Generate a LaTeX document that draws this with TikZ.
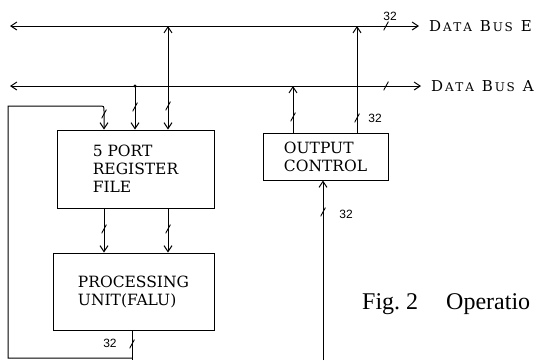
\documentclass[tikz,border=0pt]{standalone}
\usepackage{fontspec}
\setmainfont{DejaVu Serif}
\newfontfamily\numfont{Liberation Sans}
\newfontfamily\capfont{Liberation Serif}
\usetikzlibrary{arrows.meta}
\newcommand\bigsc[1]{{\fontsize{15}{16}\selectfont #1}}
\newcommand\smallsc[1]{{\fontsize{12}{13}\selectfont #1}}
\newcommand\lsp{\kern1.8pt}
\newcommand\busname[1]{\bigsc{D}\lsp\smallsc{A}\lsp\smallsc{T}\lsp\smallsc{A}\hspace{8pt}%
  \bigsc{B}\lsp\smallsc{U}\lsp\smallsc{S}\hspace{8pt}\bigsc{#1}}
\tikzset{
  conn/.style={line width=1pt},
  tipA/.tip={Straight Barb[length=6pt,width=8pt]},
  arr/.style={conn,-tipA},
  darr/.style={conn,tipA-tipA},
  box/.style={draw,line width=1pt,inner sep=2pt,align=left,
    font=\fontsize{15.5}{18}\selectfont},
  busslash/.style={inner sep=0pt,minimum width=5pt,minimum height=9pt,
    path picture={\draw[line width=0.9pt] (path picture bounding box.south west)
      -- (path picture bounding box.north east);}},
  num/.style={inner sep=0pt,font=\numfont\fontsize{12}{14}\selectfont},
  buslabel/.style={inner sep=0pt,anchor=base west},
}
\begin{document}
\begin{tikzpicture}[x=1pt,y=-1pt]
\useasboundingbox (0,0) rectangle (538,360);
% boxes
\node[box,minimum width=157pt,minimum height=78pt] (rf) at (135.5,169)
  {5 PORT\\REGISTER\\FILE};
\node[box,minimum width=161pt,minimum height=77pt] (pu) at (133.5,291.5)
  {PROCESSING\\UNIT(FALU)};
\node[box,minimum width=125pt,minimum height=47pt] (oc) at (325.5,156.5)
  {OUTPUT\\CONTROL};
% bus coordinates
\coordinate (eL) at (10,26);
\coordinate (eR) at (419,26);
\coordinate (aL) at (10,86);
\coordinate (aR) at (421,86);
\node[buslabel] (le) at (429,31) {\busname{E}};
\node[buslabel] (la) at (431,91) {\busname{A}};
\draw[darr] (eL) -- (eR);
\draw[darr] (aL) -- (aR);
% junctions
\coordinate (j1) at (168,26);
\coordinate (j2) at (135,86);
\coordinate (j3) at (293,86);
\coordinate (j4) at (357,26);
\coordinate (f1) at (132,358);
\coordinate (f2) at (8,358);
\coordinate (f3) at (8,106);
\coordinate (f4) at (104,106);
\coordinate (pb) at (132,360);
\coordinate (ib) at (323,360);
% register file inputs
\draw[darr] (j1) -- (rf.north -| j1);
\draw[arr] (j2) -- (rf.north -| j2);
\fill (j2) circle (1.6pt);
\draw[arr] (f1) -- (f2) -- (f3) -- (99,106) .. controls (104,106) .. (104,111)
  -- (rf.north -| f4);
% register file to processing unit
\draw[arr] (rf.south -| f4) -- (pu.north -| f4);
\draw[arr] (rf.south -| j1) -- (pu.north -| j1);
% processing unit output
\draw[conn] (pu.south -| pb) -- (pb);
% output control
\draw[arr] (oc.north -| j3) -- (j3);
\draw[arr] (oc.north -| j4) -- (j4);
\draw[arr] (ib) -- (oc.south -| ib);
% slashes
\node[busslash] (s1) at (168,106) {};
\node[busslash] (s2) at (135,107) {};
\node[busslash] (s3) at (104,114) {};
\node[busslash] (s4) at (104,229) {};
\node[busslash] (s5) at (168,229) {};
\node[busslash] (s6) at (132,344) {};
\node[busslash] (s7) at (293,117) {};
\node[busslash] (s8) at (357,118) {};
\node[busslash] (s9) at (386,26) {};
\node[busslash] (s10) at (386,86) {};
\node[busslash] (s11) at (323,212) {};
% labels 32
\node[num] (n1) at (390,16) {32};
\node[num] (n2) at (375,118) {32};
\node[num] (n3) at (346,214) {32};
\node[num] (n4) at (110,343) {32};
% caption
\node[inner sep=0pt,anchor=base west,font=\capfont\fontsize{24}{28}\selectfont]
  (cap) at (362,309) {Fig.~2\hspace{28pt}Operatio};
\end{tikzpicture}
\end{document}
